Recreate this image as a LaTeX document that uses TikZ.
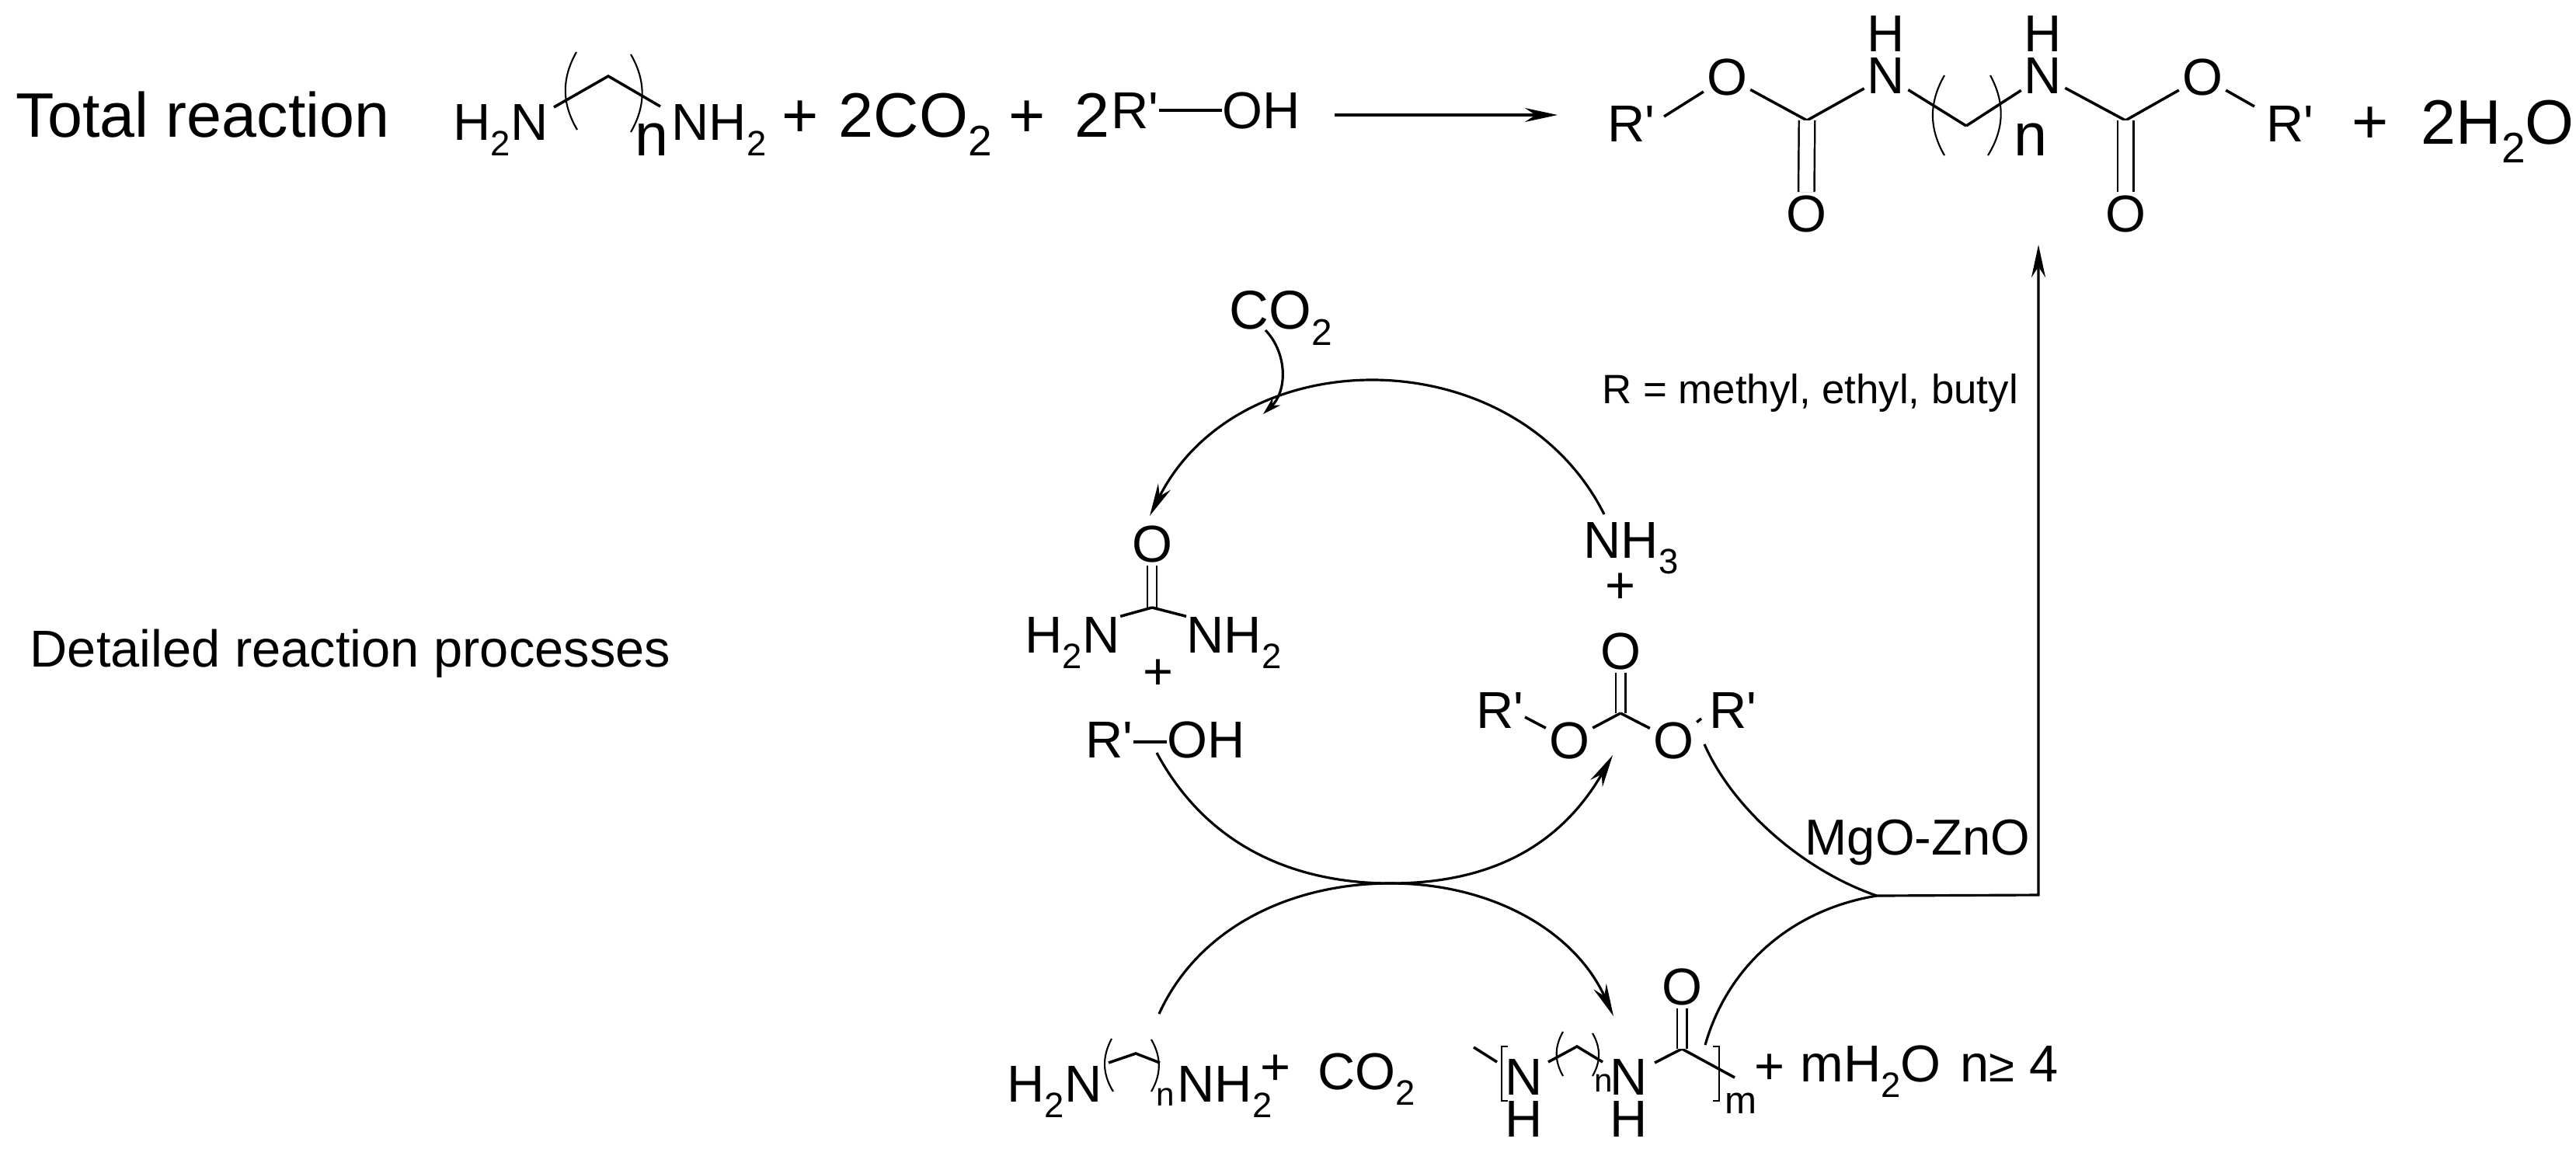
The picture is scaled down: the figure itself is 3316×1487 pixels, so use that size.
\documentclass[tikz,border=0pt]{standalone}
\usepackage{fontspec}
\usepackage{tikz}
\usetikzlibrary{positioning, arrows.meta}
\setmainfont{Liberation Sans}
\newcommand{\chsub}[1]{\raisebox{-.3em}{\scalebox{.68}{#1}}}
\newcommand{\rp}{R\textquotesingle}
\tikzset{
    atom/.style={inner sep=1pt, font=\fontsize{19}{22}\selectfont},
    formula/.style={inner sep=0pt, anchor=base west, font=\fontsize{19}{22}\selectfont},
    largetext/.style={inner sep=0pt, anchor=base west, font=\fontsize{23}{26}\selectfont},
    tinytext/.style={inner sep=0pt, anchor=base west, font=\fontsize{12}{14}\selectfont},
    bond/.style={line width=1pt},
    dbond/.style={double, line width=0.7pt},
    brack/.style={line width=0.6pt},
    react/.style={line width=0.9pt, -{Stealth[length=0.42cm, width=0.18cm]}},
    plain/.style={line width=0.9pt}
}
\begin{document}
\begin{tikzpicture}[x=0.01cm, y=-0.01cm]
            \useasboundingbox (0, 0) rectangle (3316, 1487);
            % top row
            \node[largetext] (total) at (20, 176) {Total reaction};
            \node[formula] (amine) at (583, 180) {H\chsub{2}N};
            \node[formula] (amineb) at (864, 180) {NH\chsub{2}};
            \node[formula, font=\fontsize{22}{24}\selectfont] (aminen) at (817, 200) {n};
            \node[largetext] (plusa) at (1006, 176) {+};
            \node[largetext] (cotwo) at (1079, 176) {2CO\chsub{2}};
            \node[largetext] (plusb) at (1298, 176) {+};
            \node[largetext] (twor) at (1383, 176) {2};
            \node[formula] (ralc) at (1430, 165) {\rp};
            \node[formula] (ohalc) at (1573, 165) {OH};
            \coordinate (ca) at (713, 138);
            \coordinate (cb) at (783, 98);
            \coordinate (cc) at (850, 137);
            \draw[bond] (ca) -- (cb) -- (cc);
            \draw[brack] (742, 67) to[bend right=30] (743, 167);
            \draw[brack] (812, 70) to[bend left=30] (812, 170);
            \draw[plain, line width=1.2pt] (ralc.east |- 0, 142) -- (ohalc.west |- 0, 142);
            \coordinate (arrowa) at (1718, 148);
            \coordinate (arrowb) at (2005, 148);
            \draw[react] (arrowa) -- (arrowb);

            % product
            \node[formula] (rone) at (2069, 182) {\rp};
            \node[atom] (oone) at (2223, 99) {O};
            \node[atom] (none) at (2428, 98) {N};
            \node[atom] (hone) at (2428, 44) {H};
            \node[atom] (ntwo) at (2630, 98) {N};
            \node[atom] (htwo) at (2630, 44) {H};
            \node[atom] (othree) at (2835, 99) {O};
            \node[formula] (rtwo) at (2917, 182) {\rp};
            \node[atom] (ofour) at (2325, 275) {O};
            \node[atom] (ofive) at (2736, 275) {O};
            \node[formula, font=\fontsize{22}{24}\selectfont] (prodn) at (2592, 200) {n};
            \node[largetext] (plusc) at (3027, 184) {+};
            \node[largetext] (water) at (3116, 185) {2H\chsub{2}O};
            \coordinate (cd) at (2326, 155);
            \coordinate (ce) at (2531, 162);
            \coordinate (cf) at (2736, 155);
            \coordinate (rendone) at (2142, 150);
            \coordinate (rendtwo) at (2902, 137);
            \draw[bond] (rendone) -- (oone);
            \draw[bond] (oone) -- (cd);
            \draw[bond] (cd) -- (none);
            \draw[bond] (none) -- (ce);
            \draw[bond] (ce) -- (ntwo);
            \draw[bond] (ntwo) -- (cf);
            \draw[bond] (cf) -- (othree);
            \draw[bond] (othree) -- (rendtwo);
            \draw[dbond, double distance=0.18cm] (cd) -- (ofour);
            \draw[dbond, double distance=0.18cm] (cf) -- (ofive);
            \draw[brack] (2503, 97) to[bend right=30] (2503, 200);
            \draw[brack] (2562, 97) to[bend left=30] (2559, 200);

            % cycle, upper part
            \node[formula, font=\fontsize{20}{22}\selectfont] (ctop) at (1582, 423) {CO\chsub{2}};
            \node[formula, font=\fontsize{15}{17}\selectfont] (rnote) at (2062, 519) {R = methyl, ethyl, butyl};
            \node[formula] (nhthree) at (2038, 718) {NH\chsub{3}};
            \node[formula] (plusd) at (2066, 776) {+};
            \node[atom] (ourea) at (1483, 700) {O};
            \node[formula] (hn) at (1319, 840) {H\chsub{2}N};
            \node[formula] (nh) at (1527, 840) {NH\chsub{2}};
            \node[formula] (pluse) at (1471, 887) {+};
            \node[formula] (rohr) at (1397, 975) {\rp};
            \node[formula] (rohoh) at (1502, 975) {OH};
            \node[atom] (ocarb) at (2086, 838) {O};
            \node[atom] (oleft) at (2020, 953) {O};
            \node[atom] (oright) at (2154, 953) {O};
            \node[formula] (rleft) at (1900, 937) {\rp};
            \node[formula] (rright) at (2200, 937) {\rp};
            \node[formula, font=\fontsize{18.5}{21}\selectfont] (mgo) at (2323, 1100) {MgO-ZnO};
            \node[formula] (detail) at (38, 858) {Detailed reaction processes};
            \coordinate (cg) at (1483, 782);
            \coordinate (ch) at (2086, 918);
            \coordinate (ligand) at (1963, 923);
            \coordinate (ligandb) at (2190, 925);
            \draw[dbond, double distance=0.1cm] (cg) -- (ourea);
            \draw[bond] (cg) -- (hn.north east);
            \draw[bond] (cg) -- (nh.north west);
            \draw[dbond, double distance=0.1cm] (ch) -- (ocarb);
            \draw[bond] (ch) -- (oleft);
            \draw[bond] (ch) -- (oright);
            \draw[bond] (ligand) -- (oleft);
            \draw[bond] (oright) -- (ligandb);
            \draw[plain] (rohr.east |- 0, 955) -- (rohoh.west |- 0, 955);
            \coordinate (arcstart) at (2065, 662);
            \coordinate (arcend) at (1480, 664);
            \coordinate (cotail) at (1629, 425);
            \coordinate (coend) at (1626, 533);
            \draw[react] (arcstart) .. controls +(-115, -228) and +(115, -228) .. (arcend);
            \draw[react, -{Stealth[length=0.24cm, width=0.14cm]}] (cotail) to[bend left=45] (coend);

            % cycle, lower part
            \node[formula] (hnb) at (1296, 1418) {H\chsub{2}N};
            \node[formula] (nhb) at (1515, 1418) {NH\chsub{2}};
            \node[tinytext] (bn) at (1488, 1423) {n};
            \node[formula] (plusf) at (1622, 1396) {+};
            \node[formula] (cob) at (1696, 1402) {CO\chsub{2}};
            \node[atom] (npa) at (1962, 1386) {N};
            \node[atom] (hpa) at (1962, 1440) {H};
            \node[atom] (npb) at (2097, 1386) {N};
            \node[atom] (hpb) at (2097, 1440) {H};
            \node[tinytext] (pn) at (2052, 1405) {n};
            \node[atom] (opol) at (2165, 1270) {O};
            \node[tinytext, font=\fontsize{14}{16}\selectfont] (pm) at (2220, 1433) {m};
            \node[formula] (plusg) at (2258, 1395) {+};
            \node[formula] (mwater) at (2317, 1392) {mH\chsub{2}O};
            \node[formula] (ngeq) at (2523, 1392) {n{\fontsize{17}{19}\selectfont≥} 4};
            \coordinate (ci) at (2030, 1347);
            \coordinate (cj) at (2165, 1350);
            \coordinate (cl) at (1993, 1367);
            \coordinate (cm) at (2063, 1367);
            \coordinate (cn) at (2130, 1368);
            \coordinate (tick) at (1897, 1348);
            \coordinate (tickend) at (1927, 1367);
            \coordinate (cka) at (1427, 1368);
            \coordinate (ck) at (1462, 1356);
            \coordinate (ckb) at (1493, 1368);
            \coordinate (tail) at (2233, 1387);
            \draw[bond] (cka) -- (ck) -- (ckb);
            \draw[brack] (1431, 1337) to[bend right=30] (1433, 1405);
            \draw[brack] (1482, 1338) to[bend left=30] (1482, 1405);
            \draw[bond] (tick) -- (tickend);
            \draw[bond] (cl) -- (ci) -- (cm);
            \draw[brack] (2012, 1328) to[bend right=30] (2012, 1385);
            \draw[brack] (2050, 1330) to[bend left=30] (2050, 1385);
            \draw[bond] (cn) -- (cj);
            \draw[bond] (cj) -- (tail);
            \draw[dbond, double distance=0.1cm] (cj) -- (opol);
            \draw[brack] (1941, 1347) -- (1933, 1347) -- (1933, 1417) -- (1941, 1417);
            \draw[brack] (2205, 1347) -- (2213, 1347) -- (2213, 1417) -- (2205, 1417);
            \coordinate (roha) at (1489, 969);
            \coordinate (mida) at (1790, 1137);
            \coordinate (tipa) at (2076, 972);
            \coordinate (tipb) at (2077, 1308);
            \coordinate (loa) at (1492, 1305);
            \coordinate (mgoa) at (2194, 958);
            \coordinate (mgob) at (2416, 1153);
            \coordinate (mgoc) at (2195, 1345);
            \coordinate (cornera) at (2624, 1152);
            \coordinate (tipc) at (2624, 315);
            \draw[plain] (roha) .. controls +(70, 130) and +(-110, 0) .. (mida);
            \draw[react] (mida) .. controls +(110, 0) and +(-75, 130) .. (tipa);
            \draw[plain] (loa) .. controls +(50, -110) and +(-130, 0) .. (mida);
            \draw[react] (mida) .. controls +(130, 0) and +(-50, -110) .. (tipb);
            \draw[plain] (mgoa) .. controls +(36, 82) and +(-96, -33) .. (mgob);
            \draw[plain] (mgoc) .. controls +(30, -105) and +(-106, 17) .. (mgob);
            \draw[react] (mgob) -- (cornera) -- (tipc);
\end{tikzpicture}
\end{document}
